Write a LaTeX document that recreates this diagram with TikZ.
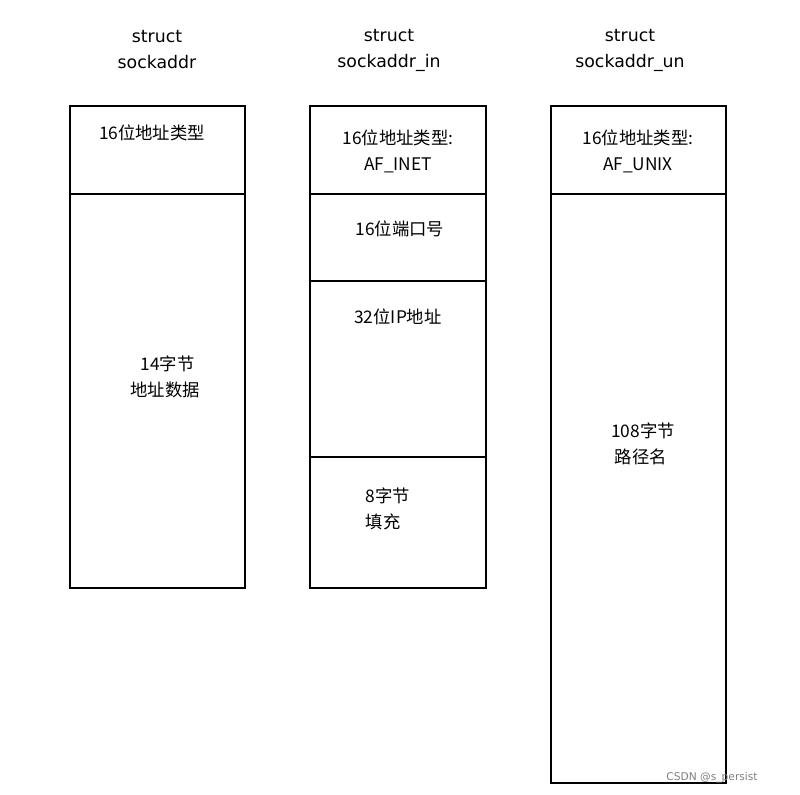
\documentclass[tikz,border=0pt]{standalone}
\usepackage{fontspec}
\setmainfont{DejaVu Sans}
\newfontfamily\cjk{Noto Sans CJK SC}
\usetikzlibrary{positioning}
\begin{document}
\begin{tikzpicture}[
    x=0.75pt, y=-0.75pt,
    every node/.style={font=\cjk\fontsize{13}{17}\selectfont, inner sep=0pt},
    field/.style={draw, line width=1.5pt},
    title/.style={align=center, font=\fontsize{13}{19.5}\selectfont},
    twoline/.style={align=left, font=\cjk\fontsize{13}{19.5}\selectfont}
]
\useasboundingbox (0,0) rectangle (800,795);

% struct sockaddr
\node[title] (t_addr) at (157,50) {struct\\sockaddr};
\draw[field] (70,106) rectangle (245,194) (70,194) rectangle (245,588);
\node (addr_family) at (152,133) {16位地址类型};
\node[twoline] (addr_data) at (165,377) {\hspace*{0.6em}14字节\\地址数据};

% struct sockaddr_in
\node[title] (t_in) at (389,50) {struct\\sockaddr\_in};
\draw[field] (310,106) rectangle (486,194) (310,194) rectangle (486,281)
  (310,281) rectangle (486,457) (310,457) rectangle (486,588);
\node[align=center, font=\cjk\fontsize{13}{19.5}\selectfont] (in_family) at (398,151) {16位地址类型:\\AF\_INET};
\node (in_port) at (400,229) {16位端口号};
\node (in_ip) at (398,317) {32位IP地址};
\node[twoline] (in_pad) at (388,509) {8字节\\填充};

% struct sockaddr_un
\node[title] (t_un) at (630,50) {struct\\sockaddr\_un};
\draw[field] (551,106) rectangle (726,194) (551,194) rectangle (726,783);
\node[align=center, font=\cjk\fontsize{13}{19.5}\selectfont] (un_family) at (638,151) {16位地址类型:\\AF\_UNIX};
\node[twoline] (un_path) at (643,444) {108字节\\\hspace*{0.2em}路径名};

\node[font=\fontsize{8}{10}\selectfont, text=gray] (mark_csdn) at (712,778) {CSDN @s\_persist};
\end{tikzpicture}
\end{document}
